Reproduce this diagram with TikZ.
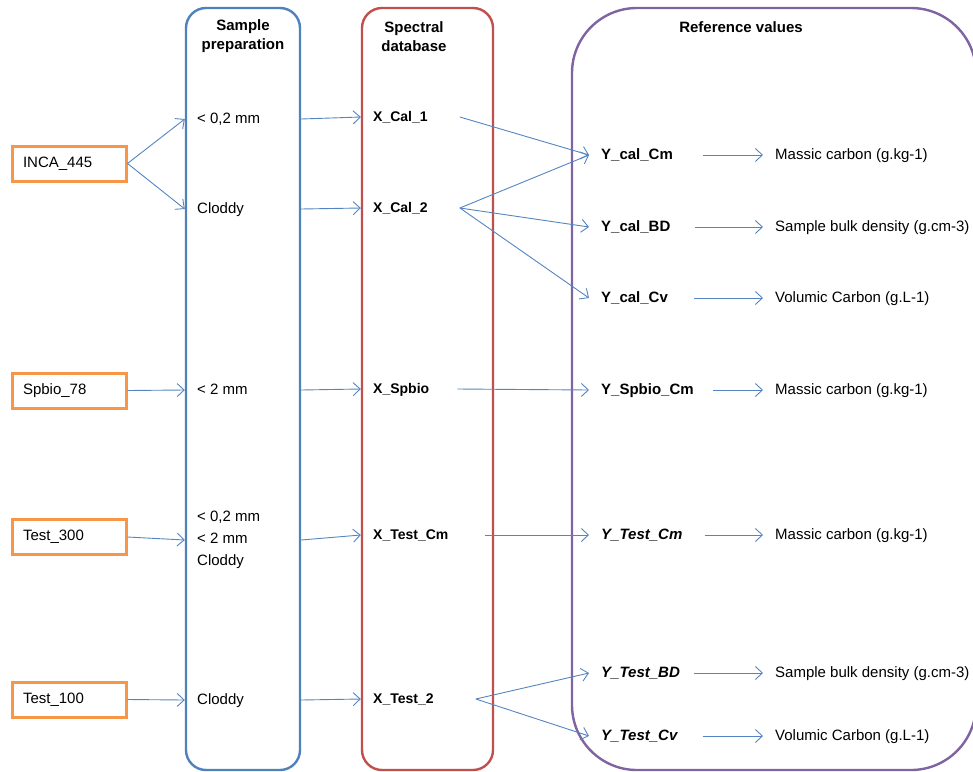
\documentclass[tikz,border=0pt]{standalone}
\usepackage{fontspec}
\setmainfont{Liberation Sans}
\usetikzlibrary{arrows.meta}
\definecolor{srcOrange}{HTML}{F79646}
\definecolor{prepBlue}{HTML}{4F81BD}
\definecolor{specRed}{HTML}{C0504D}
\definecolor{refPurple}{HTML}{8064A2}
\definecolor{linkBlue}{HTML}{5585C0}
\begin{document}
\begin{tikzpicture}[x=1pt, y=-1pt, font=\fontsize{15}{18}\selectfont,
                    srcStyle/.style={rectangle, draw=srcOrange, line width=3pt, minimum height=35pt, text width=92pt, inner xsep=11pt, align=left},
                    colStyle/.style={rectangle, rounded corners=20pt, line width=2.4pt, minimum height=762pt},
                    headStyle/.style={font=\fontsize{15}{19}\selectfont\bfseries, align=center},
                    itemStyle/.style={anchor=west, inner sep=0pt, text height=11pt, text depth=3pt},
                    specStyle/.style={itemStyle, font=\fontsize{14}{18}\selectfont\bfseries},
                    refStyle/.style={itemStyle, font=\fontsize{15}{18}\selectfont\bfseries},
                    testStyle/.style={itemStyle, font=\fontsize{15}{18}\selectfont\bfseries\itshape},
                    linkStyle/.style={draw=linkBlue, line width=0.9pt, -{Straight Barb[length=7pt,width=13pt]}}]
                    \useasboundingbox (0,0) rectangle (973,771);
                    \node[colStyle, draw=prepBlue, minimum width=114pt] (prep) at (243,389) {};
                    \node[colStyle, draw=specRed, minimum width=131pt] (spec) at (427.5,389) {};
                    \node[colStyle, draw=refPurple, minimum width=404pt, rounded corners=65pt] (ref) at (774,389) {};
                    \node[headStyle] (prep_T) at (243,36.5) {Sample\\preparation};
                    \node[headStyle] (spec_T) at (414,36.5) {Spectral\\database};
                    \node[headStyle] (ref_T)  at (741,27) {Reference values};
                    \node[srcStyle] (src_INCA)  at (69,163.5) {INCA\_445};
                    \node[srcStyle] (src_Spbio) at (69,390.5) {Spbio\_78};
                    \node[srcStyle] (src_T300)  at (69,537) {Test\_300};
                    \node[srcStyle] (src_T100)  at (69,699.5) {Test\_100};
                    \node[itemStyle] (prep_0) at (197,119) {< 0,2 mm};
                    \node[itemStyle] (prep_1) at (197,209) {Cloddy};
                    \node[itemStyle] (prep_2) at (197,390) {< 2 mm};
                    \node[anchor=west, inner sep=0pt, align=left, font=\fontsize{15}{22}\selectfont] (prep_3) at (197,540) {< 0,2 mm\\< 2 mm\\Cloddy};
                    \node[itemStyle] (prep_4) at (197,700) {Cloddy};
                    \node[specStyle] (spec_0) at (373,117) {X\_Cal\_1};
                    \node[specStyle] (spec_1) at (373,208) {X\_Cal\_2};
                    \node[specStyle] (spec_2) at (373,389) {X\_Spbio};
                    \node[specStyle] (spec_3) at (373,535) {X\_Test\_Cm};
                    \node[specStyle] (spec_4) at (373,699) {X\_Test\_2};
                    \node[refStyle]  (ref_0) at (601,155) {Y\_cal\_Cm};
                    \node[refStyle]  (ref_1) at (601,227) {Y\_cal\_BD};
                    \node[refStyle]  (ref_2) at (601,298) {Y\_cal\_Cv};
                    \node[refStyle]  (ref_3) at (601,390) {Y\_Spbio\_Cm};
                    \node[testStyle] (ref_4) at (601,535) {Y\_Test\_Cm};
                    \node[testStyle] (ref_5) at (601,673) {Y\_Test\_BD};
                    \node[testStyle] (ref_6) at (601,736) {Y\_Test\_Cv};
                    \node[itemStyle] (desc_0) at (775,155) {Massic carbon (g.kg-1)};
                    \node[itemStyle] (desc_1) at (775,227) {Sample bulk density (g.cm-3)};
                    \node[itemStyle] (desc_2) at (775,298) {Volumic Carbon (g.L-1)};
                    \node[itemStyle] (desc_3) at (775,390) {Massic carbon (g.kg-1)};
                    \node[itemStyle] (desc_4) at (775,535) {Massic carbon (g.kg-1)};
                    \node[itemStyle] (desc_5) at (775,673) {Sample bulk density (g.cm-3)};
                    \node[itemStyle] (desc_6) at (775,736) {Volumic Carbon (g.L-1)};
                    \draw[linkStyle] (src_INCA.east) -- (prep_0 -| prep.west);
                    \draw[linkStyle] (src_INCA.east) -- (prep_1 -| prep.west);
                    \draw[linkStyle] (src_Spbio.east) -- (prep_2 -| prep.west);
                    \draw[linkStyle] (src_T300.east) -- (prep_3 -| prep.west);
                    \draw[linkStyle] (src_T100.east) -- (prep_4 -| prep.west);
                    \draw[linkStyle] (prep_0 -| prep.east) -- (spec_0 -| spec.west);
                    \draw[linkStyle] (prep_1 -| prep.east) -- (spec_1 -| spec.west);
                    \draw[linkStyle] (prep_2 -| prep.east) -- (spec_2 -| spec.west);
                    \draw[linkStyle] (prep_3 -| prep.east) -- (spec_3 -| spec.west);
                    \draw[linkStyle] (prep_4 -| prep.east) -- (spec_4 -| spec.west);
                    \draw[linkStyle] ([xshift=32pt]spec_0.east) -- ([xshift=-12pt]ref_0.west);
                    \draw[linkStyle] ([xshift=32pt]spec_1.east) -- ([xshift=-12pt]ref_0.west);
                    \draw[linkStyle] ([xshift=32pt]spec_1.east) -- ([xshift=-12pt]ref_1.west);
                    \draw[linkStyle] ([xshift=32pt]spec_1.east) -- ([xshift=-12pt]ref_2.west);
                    \draw[linkStyle] ([xshift=28pt]spec_2.east) -- ([xshift=-12pt]ref_3.west);
                    \draw[linkStyle] ([xshift=36pt]spec_3.east) -- ([xshift=-12pt]ref_4.west);
                    \draw[linkStyle] ([xshift=42pt]spec_4.east) -- ([xshift=-12pt]ref_5.west);
                    \draw[linkStyle] ([xshift=42pt]spec_4.east) -- ([xshift=-12pt]ref_6.west);
                    \foreach \i/\s in {0/30,1/24,2/26,3/19,4/22,5/14,6/25}
                        \draw[linkStyle] ([xshift=\s pt]ref_\i.east) -- ([xshift=-12pt]desc_\i.west);
                \end{tikzpicture}
\end{document}
